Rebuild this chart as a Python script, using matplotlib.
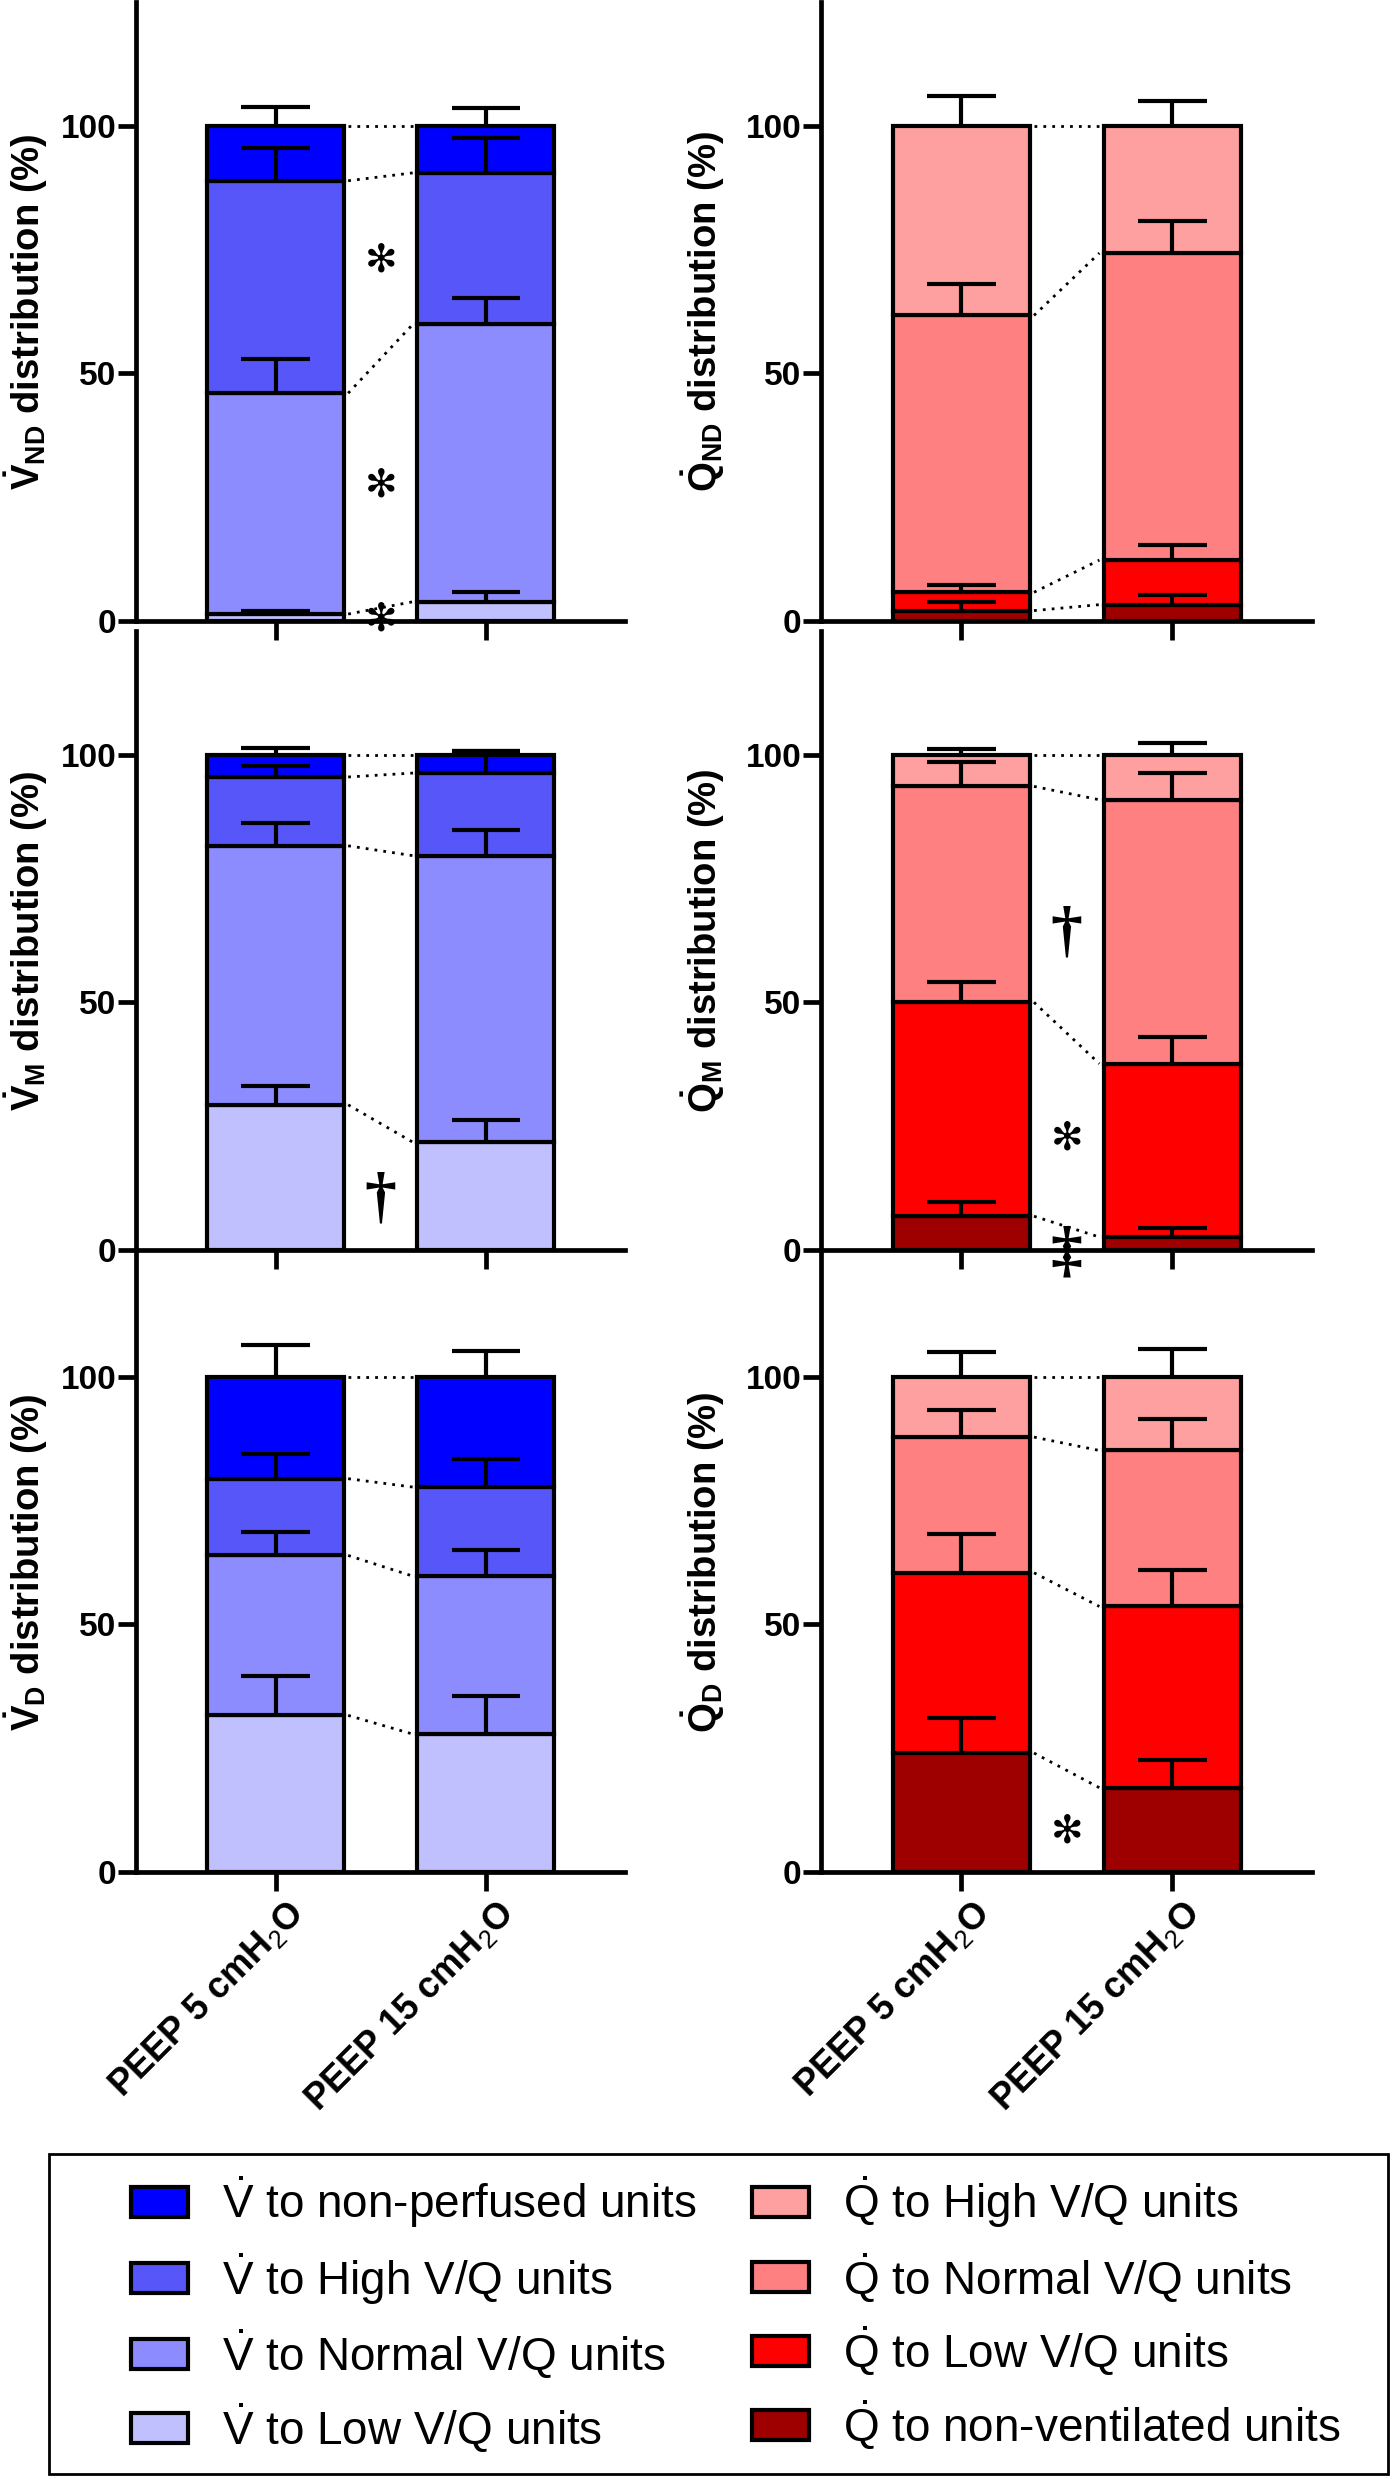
import numpy as np
import matplotlib.pyplot as plt
from matplotlib.patches import Patch, Rectangle
from matplotlib.transforms import ScaledTranslation

plt.rcParams['font.family'] = ['Liberation Sans', 'DejaVu Sans']
plt.rcParams['mathtext.fontset'] = 'custom'
plt.rcParams['mathtext.rm'] = 'Liberation Sans'
plt.rcParams['mathtext.it'] = 'Liberation Sans:italic'
plt.rcParams['mathtext.bf'] = 'Liberation Sans:bold'

groups = ['PEEP 5 cmH$_2$O', 'PEEP 15 cmH$_2$O']

# colours, bottom -> top of the stack
v_colors = ['#c0c0ff', '#8c8cff', '#5757f9', '#0000ff']
q_colors = ['#9e0000', '#ff0000', '#ff8080', '#ffa0a0']

v_labels = ['to non-perfused units', 'to High V/Q units', 'to Normal V/Q units', 'to Low V/Q units']
q_labels = ['to High V/Q units', 'to Normal V/Q units', 'to Low V/Q units', 'to non-ventilated units']

# segment means (bottom -> top) per PEEP level, and SD of each segment
vnd_mean = [[1.4, 44.6, 42.9, 11.1], [3.9, 56.1, 30.5, 9.5]]
vnd_sd = [[0.7, 7.0, 6.6, 3.7], [1.9, 5.3, 7.0, 3.5]]
qnd_mean = [[2.1, 3.7, 55.9, 38.3], [3.3, 9.0, 62.0, 25.7]]
qnd_sd = [[1.8, 1.4, 6.4, 6.0], [1.9, 3.1, 6.5, 5.1]]

vm_mean = [[29.3, 52.3, 13.9, 4.5], [21.7, 57.9, 16.7, 3.7]]
vm_sd = [[3.7, 4.6, 2.2, 1.4], [4.5, 5.1, 4.4, 0.8]]
qm_mean = [[6.8, 43.2, 43.6, 6.4], [2.6, 35.0, 53.3, 9.1]]
qm_sd = [[2.9, 4.2, 4.9, 1.2], [1.8, 5.3, 5.5, 2.3]]

vd_mean = [[31.6, 32.3, 15.5, 20.6], [27.8, 31.9, 18.0, 22.3]]
vd_sd = [[8.0, 4.7, 5.0, 6.3], [7.7, 5.4, 5.7, 5.2]]
qd_mean = [[24.0, 36.4, 27.4, 12.2], [17.0, 36.6, 31.5, 14.9]]
qd_sd = [[7.1, 7.9, 5.5, 4.9], [5.6, 7.4, 6.3, 5.6]]

# significance symbols between the bars: (y, symbol)
vnd_sig = [(72.8, '✻'), (27.4, '✻'), (0.3, '✻')]
qnd_sig = []
vm_sig = [(10.0, '†')]
qm_sig = [(63.7, '†'), (22.5, '✻'), (-1.0, '‡')]
vd_sig = []
qd_sig = [(8.2, '✻')]

panels = [
    (vnd_mean, vnd_sd, v_colors, r'$\mathbf{\dot{V}_{ND}}$ distribution (%)', vnd_sig),
    (qnd_mean, qnd_sd, q_colors, r'$\mathbf{\dot{Q}_{ND}}$ distribution (%)', qnd_sig),
    (vm_mean, vm_sd, v_colors, r'$\mathbf{\dot{V}_{M}}$ distribution (%)', vm_sig),
    (qm_mean, qm_sd, q_colors, r'$\mathbf{\dot{Q}_{M}}$ distribution (%)', qm_sig),
    (vd_mean, vd_sd, v_colors, r'$\mathbf{\dot{V}_{D}}$ distribution (%)', vd_sig),
    (qd_mean, qd_sd, q_colors, r'$\mathbf{\dot{Q}_{D}}$ distribution (%)', qd_sig),
]

fig = plt.figure(figsize=(13.92, 24.79), dpi=100)

col_x = [0.0977, 0.5898]
col_w = [0.3513, 0.3527]
label_x = [-0.176, -0.191]
row_y = [0.7495, 0.4958, 0.2449]
row_h = 0.2497

xpos = np.arange(2)
bw = 0.65
lw = 3.0

for i, (means, sds, colors, ylab, sig) in enumerate(panels):
    r, c = divmod(i, 2)
    ax = fig.add_axes([col_x[c], row_y[r], col_w[c], row_h])
    means = np.array(means)
    sds = np.array(sds)
    bottoms = np.hstack([np.zeros((2, 1)), np.cumsum(means, axis=1)[:, :-1]])
    tops = bottoms + means

    for k in range(4):
        ax.bar(xpos, means[:, k], bottom=bottoms[:, k], width=bw,
               color=colors[k], edgecolor='black', linewidth=lw, zorder=2)
    for k in range(4):
        ax.vlines(xpos, tops[:, k], tops[:, k] + sds[:, k], color='black', lw=lw, zorder=4)
        ax.hlines(tops[:, k] + sds[:, k], xpos - 0.163, xpos + 0.163,
                  color='black', lw=lw, zorder=4)
        # dotted connectors between the two bars
        ax.plot([bw / 2 + 0.02, 1 - bw / 2 - 0.02], [tops[0, k], tops[1, k]],
                color='black', lw=2.0, linestyle=(0, (1, 2.2)), zorder=3)

    for y, s in sig:
        if s == '✻':
            ax.text(0.5, y, s, ha='center', va='center', fontsize=28,
                    family='DejaVu Sans', zorder=5)
        else:
            ax.text(0.5, y, s, ha='center', va='center', fontsize=46,
                    family='Liberation Serif', fontweight='bold', zorder=5)

    ax.set_xlim(-0.665, 1.663)
    ax.set_ylim(0, 125)
    ax.spines['top'].set_visible(False)
    ax.spines['right'].set_visible(False)
    ax.spines['left'].set_linewidth(3.4)
    ax.spines['bottom'].set_linewidth(3.4)
    ax.set_yticks([0, 50, 100])
    ax.set_yticklabels(['0', '50', '100'], fontsize=24, fontweight='bold')
    ax.tick_params(axis='y', length=13, width=3.4, pad=1)
    ax.tick_params(axis='x', length=14, width=3.4, pad=3)
    ax.set_xticks(xpos)
    if r == 2:
        ax.set_xticklabels(groups, fontsize=26, fontweight='bold',
                           rotation=45, ha='right', va='top', rotation_mode='anchor')
        for t in ax.get_xticklabels():
            t.set_transform(t.get_transform() + ScaledTranslation(0.10, 0, fig.dpi_scale_trans))
    else:
        ax.set_xticklabels([])
    ax.set_ylabel(ylab, fontsize=27.5, fontweight='bold')
    ax.yaxis.set_label_coords(label_x[c], 0.5)
    ax.patch.set_alpha(0)

# legend
handles = [Patch(facecolor=v_colors[3 - k], edgecolor='black', linewidth=3) for k in range(4)]
handles += [Patch(facecolor=q_colors[3 - k], edgecolor='black', linewidth=3) for k in range(4)]
labels = [r'$\dot{\mathrm{V}}$ ' + t for t in v_labels] + [r'$\dot{\mathrm{Q}}$ ' + t for t in q_labels]

fig.legend(handles, labels, loc='upper left', bbox_to_anchor=(131 / 1392, 1 - 2174 / 2479),
           ncol=2, fontsize=33, frameon=False, borderpad=0, borderaxespad=0,
           handlelength=1.24, handleheight=0.63, handletextpad=0.75,
           columnspacing=1.2, labelspacing=0.46)
fig.add_artist(Rectangle((49 / 1392, 1 - 2474 / 2479), (1388 - 49) / 1392, (2474 - 2154) / 2479,
                         transform=fig.transFigure, fill=False, edgecolor='black', lw=2))

fig.savefig('out.png', dpi=100)
